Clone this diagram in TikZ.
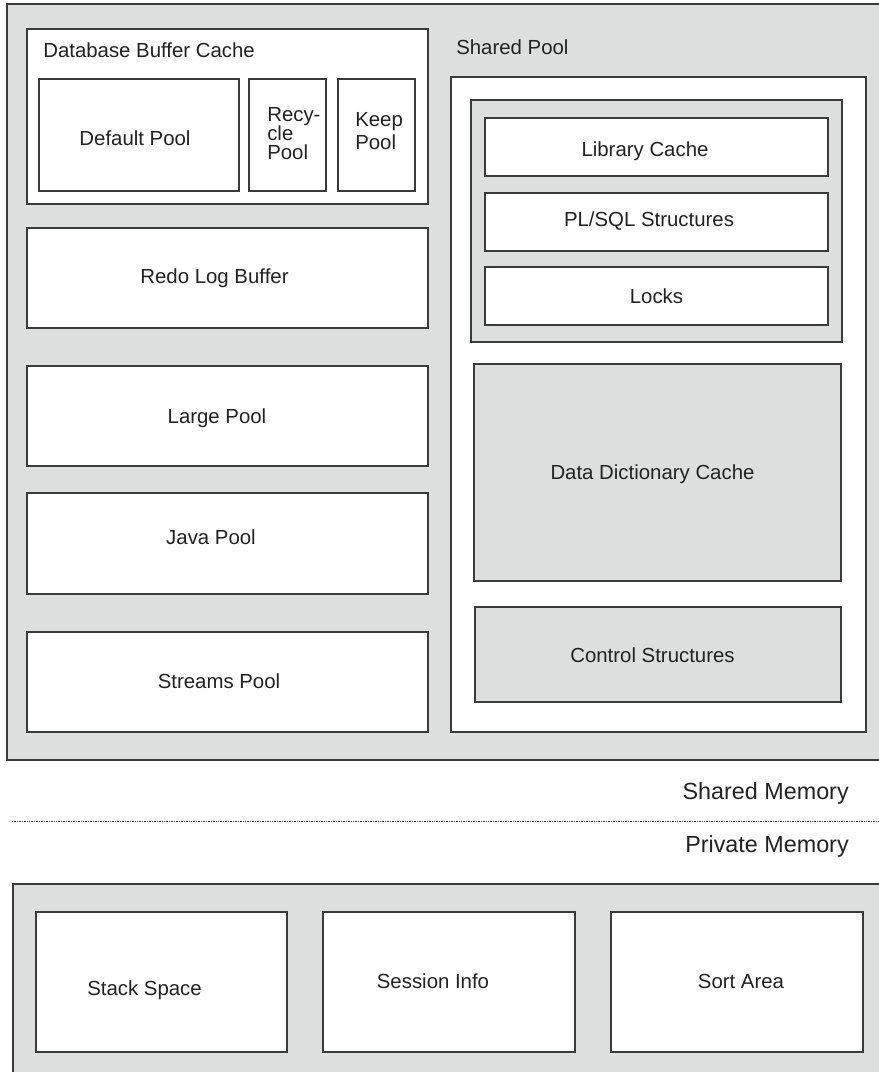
\documentclass[tikz,border=0pt]{standalone}
\usepackage{fontspec}
\setmainfont{Liberation Sans}
\usepackage{tikz}

\definecolor{areagray}{RGB}{221,223,222}
\definecolor{edgegray}{RGB}{58,58,58}
\definecolor{inkgray}{RGB}{34,34,34}

\tikzset{
  graybox/.style={fill=areagray, draw=edgegray, line width=1pt},
  whitebox/.style={fill=white, draw=edgegray, line width=1pt},
  lbl/.style={font=\fontsize{14.5}{14}\selectfont, text=inkgray, inner sep=0pt},
  biglbl/.style={font=\fontsize{16.6}{18}\selectfont, text=inkgray, inner sep=0pt}
}

\begin{document}
\begin{tikzpicture}[x=0.025cm, y=-0.025cm]
  \useasboundingbox (0,0) rectangle (879,1072);

  % shared memory (SGA)
  \draw[graybox] (7,4) rectangle (890,760);

  \draw[whitebox] (27,29) rectangle (428,204);
  \node[lbl, anchor=base west] (dbcLabel) at (43,57) {Database Buffer Cache};
  \draw[whitebox] (39,79) rectangle (239,191);
  \draw[whitebox] (249,79) rectangle (326,191);
  \draw[whitebox] (338,79) rectangle (415,191);
  \node[lbl, anchor=base] (defaultPool) at (135,145) {Default Pool};
  \node[lbl, anchor=west, align=left, font=\fontsize{14.5}{13.6}\selectfont] (recyclePool) at (267,133.5) {Recy-\\cle\\Pool};
  \node[lbl, anchor=west, align=left, font=\fontsize{14.5}{16.4}\selectfont] (keepPool) at (355,131) {Keep\\Pool};

  \draw[whitebox] (27,228) rectangle (428,328);
  \node[lbl, anchor=base] (redoLog) at (214.5,283) {Redo Log Buffer};
  \draw[whitebox] (27,366) rectangle (428,466);
  \node[lbl, anchor=base] (largePool) at (217,423) {Large Pool};
  \draw[whitebox] (27,493) rectangle (428,594);
  \node[lbl, anchor=base] (javaPool) at (211,544) {Java Pool};
  \draw[whitebox] (27,632) rectangle (428,732);
  \node[lbl, anchor=base] (streamsPool) at (219,688) {Streams Pool};

  % shared pool
  \node[lbl, anchor=base west] (sharedPool) at (456,54) {Shared Pool};
  \draw[whitebox] (451,77) rectangle (866,732);
  \draw[graybox] (471,100) rectangle (842,342);
  \draw[whitebox] (485,118) rectangle (828,176);
  \node[lbl, anchor=base] (libCache) at (645,156) {Library Cache};
  \draw[whitebox] (485,193) rectangle (828,251);
  \node[lbl, anchor=base] (plsql) at (649,226) {PL/SQL Structures};
  \draw[whitebox] (485,267) rectangle (828,325);
  \node[lbl, anchor=base] (locks) at (656.5,303) {Locks};
  \draw[graybox] (474,364) rectangle (841,581);
  \node[lbl, anchor=base] (dictCache) at (652.5,479) {Data Dictionary Cache};
  \draw[graybox] (475,607) rectangle (841,702);
  \node[lbl, anchor=base] (ctrlStruct) at (652.5,662) {Control Structures};

  % divider
  \node[biglbl, anchor=base east] (sharedMem) at (849,799) {Shared Memory};
  \draw[edgegray, line width=0.6pt, dash pattern=on 0.6pt off 0.6pt] (12,821) -- (879,821);
  \node[biglbl, anchor=base east] (privateMem) at (849,852) {Private Memory};

  % private memory (PGA)
  \draw[graybox] (13,884) rectangle (890,1080);
  \draw[whitebox] (36,912) rectangle (287,1052);
  \node[lbl, anchor=base] (stackSpace) at (144.5,995) {Stack Space};
  \draw[whitebox] (323,912) rectangle (575,1052);
  \node[lbl, anchor=base] (sessionInfo) at (433,988) {Session Info};
  \draw[whitebox] (611,912) rectangle (863,1052);
  \node[lbl, anchor=base] (sortArea) at (741,988) {Sort Area};
\end{tikzpicture}
\end{document}
